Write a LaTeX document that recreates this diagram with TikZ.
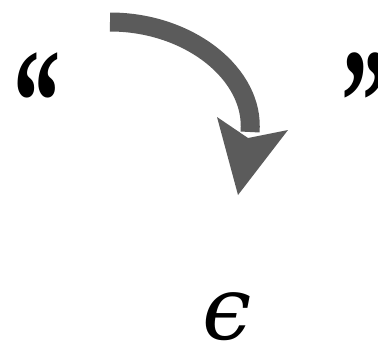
\documentclass[tikz,border=0pt]{standalone}
\usepackage{fontspec}
\setmainfont{Liberation Serif}
\newfontfamily\epsfont{DejaVu Serif}
\usetikzlibrary{positioning}
\definecolor{arrgray}{HTML}{5B5B5B}

\begin{document}
\begin{tikzpicture}[
  x=1pt, y=-1pt,
  quote/.style={anchor=base west, inner sep=0pt, xscale=0.63,
    font=\fontsize{150}{150}\selectfont\bfseries},
  shaft/.style={draw=arrgray, line width=19pt},
  head/.style={fill=arrgray},
]
  \useasboundingbox (0,0) rectangle (378,343);

  % Quotation marks
  \node[quote] (lq) at (13,152.5) {“};
  \node[quote] (rq) at (341,152.5) {”};

  % Curved arrow
  \coordinate (tail) at (110,22);
  \coordinate (tip) at (250,132);
  \draw[shaft] (tail) .. controls (190,22) and (255,75) .. (tip);
  \fill[head] (217,117) -- (248,138) -- (288,130) -- (238,195) -- cycle;

  % Epsilon below
  \node[anchor=base, inner sep=0pt, font=\epsfont\fontsize{88}{88}\selectfont\itshape]
    (eps) at (227,339) {ϵ};
\end{tikzpicture}
\end{document}
